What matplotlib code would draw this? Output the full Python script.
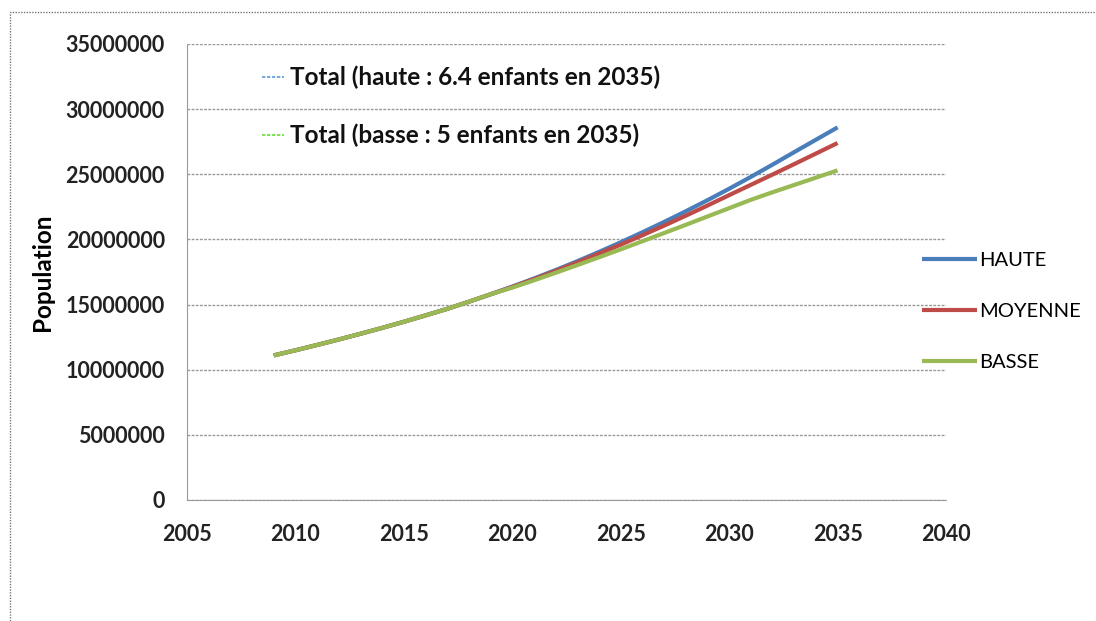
import matplotlib
matplotlib.use("Agg")
import matplotlib.pyplot as plt
from matplotlib.lines import Line2D
from matplotlib.patches import Rectangle

plt.rcParams['font.family'] = ['Lato', 'DejaVu Sans']

# projections de population (millions), 2009-2035
years = list(range(2009, 2036))
common = [11.10, 11.49, 11.90, 12.32, 12.76, 13.21, 13.68, 14.17, 14.67, 15.22, 15.79]
haute = common + [16.38, 17.00, 17.65, 18.33, 19.04, 19.78, 20.55, 21.34, 22.16,
                  23.01, 23.89, 24.80, 25.74, 26.70, 27.65, 28.60]
moyenne = common + [16.35, 16.95, 17.58, 18.23, 18.91, 19.60, 20.32, 21.06, 21.82,
                    22.60, 23.40, 24.19, 24.98, 25.78, 26.59, 27.40]
basse = common + [16.30, 16.86, 17.44, 18.03, 18.63, 19.24, 19.86, 20.49, 21.12,
                  21.76, 22.40, 23.04, 23.62, 24.18, 24.74, 25.30]

series = [("HAUTE", haute, "#4a7ebb"),
          ("MOYENNE", moyenne, "#be4b48"),
          ("BASSE", basse, "#98b954")]

notes = [("Total (haute : 6.4 enfants en 2035)", "#5b9bd5"),
         ("Total (basse : 5 enfants en 2035)", "#66dd33")]

fig = plt.figure(figsize=(10.96, 6.21), dpi=100)
ax = fig.add_axes([187/1096, 1 - 500/621, (946-187)/1096, (500-44)/621])

for name, vals, col in series:
    ax.plot(years, [v * 1e6 for v in vals], color=col, lw=3, label=name,
            solid_capstyle='butt')

ax.set_xlim(2005, 2040)
ax.set_ylim(0, 35000000)
ax.set_xticks(range(2005, 2041, 5))
ax.set_yticks(range(0, 35000001, 5000000))
ax.ticklabel_format(style='plain', axis='y', useOffset=False)
ax.tick_params(length=0, labelsize=15.5, labelcolor='#222222')
ax.tick_params(axis='y', pad=16)
ax.tick_params(axis='x', pad=17)
for lab in ax.get_xticklabels() + ax.get_yticklabels():
    lab.set_fontweight('bold')
ax.grid(axis='y', color='#999999', lw=1, ls=(0, (2, 1)))
ax.set_axisbelow(True)
for s in ['top', 'right']:
    ax.spines[s].set_visible(False)
for s in ['left', 'bottom']:
    ax.spines[s].set_color('#999999')
    ax.spines[s].set_linestyle((0, (2, 1)))
ax.set_ylabel("Population", fontsize=17.5, fontweight='bold')
ax.yaxis.set_label_coords(-0.175, 0.5)

leg = ax.legend(loc='center left', bbox_to_anchor=(0.945, 0.414), frameon=False,
                fontsize=14.5, handlelength=2.7, handletextpad=0.1,
                labelspacing=1.69)

for i, (txt, col) in enumerate(notes):
    yy = 1 - (77 + i * 58) / 621
    fig.add_artist(Line2D([262/1096, 284/1096], [yy, yy], color=col, lw=1.2,
                          ls=(0, (2, 1))))
    fig.text(290/1096, yy, txt, fontsize=17.5, fontweight='bold',
             va='center', ha='left', color='#111111')

fig.add_artist(Rectangle((10/1096, -0.05), 1.2, 1 - 12/621 + 0.05,
                         transform=fig.transFigure, fill=False,
                         ec='#777777', lw=1, ls=(0, (1, 1))))

fig.savefig("out.png", dpi=100)
